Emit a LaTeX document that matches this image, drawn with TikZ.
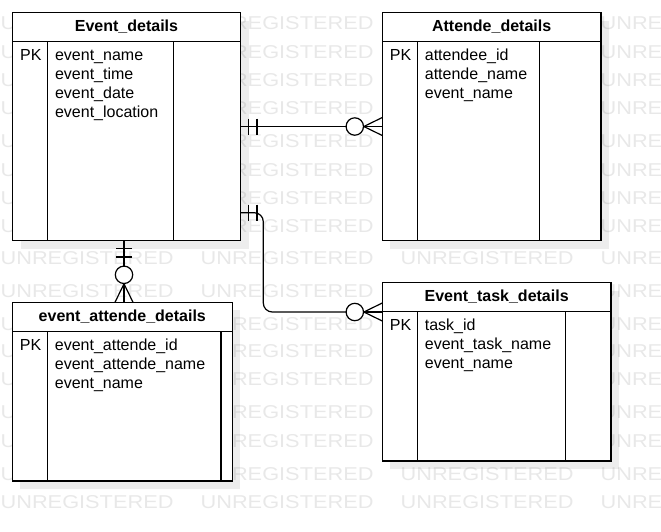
\documentclass[tikz,border=0pt]{standalone}
\usepackage{fontspec}
\setmainfont{Liberation Sans}
\usepackage{graphicx}
\usetikzlibrary{calc,shadows}

\begin{document}
\begin{tikzpicture}[x=1pt,y=-1pt,line width=1.2pt,
  tbl/.style={draw,fill=white,inner sep=0pt,outer sep=0pt,
    drop shadow={shadow xshift=8pt,shadow yshift=-8pt,fill=black,opacity=0.07}},
  ttl/.style={anchor=base,inner sep=0pt,font=\fontsize{16}{16}\selectfont\bfseries},
  fld/.style={anchor=base west,inner sep=0pt,font=\fontsize{16}{16}\selectfont},
  wm/.style={anchor=west,inner sep=0pt,text=black!9,font=\fontsize{18.6}{18.6}\selectfont},
  pics/onebar/.style={code={
    \draw (8,-8) -- (8,8);
    \draw (16.5,-8) -- (16.5,8);}},
  pics/zeromany/.style={code={
    \draw (0,-9) -- (-18.5,0) -- (0,9);
    \draw (-18.5,0) -- (0,0);
    \draw[fill=white] (-27.5,0) circle (8.7);}}]
  \useasboundingbox (0,0) rectangle (661,531);
  \foreach \y in {258,502}
    \foreach \x in {0,200,400}
      \node[wm] at (\x,\y) {\scalebox{1.17}[1]{UNREGISTERED}};
  \foreach \y in {23,52,80,108,141,170,198,226,291,324,351,379,412,441,474}
    \node[wm] at (200,\y) {\scalebox{1.17}[1]{UNREGISTERED}};
  \foreach \y in {23,52,80,108,141,170,198,226,258,291,324,351,379,412,441,474,502}
    \node[wm] at (600,\y) {\scalebox{1.17}[1]{UNRE}};
  \foreach \y in {23,52,80,108,141,170,198,226,324,351,379,412,441,474}
    \node[wm] at (0,\y) {\scalebox{1.17}[1]{U}};
  \node[wm] at (0,291) {\scalebox{1.17}[1]{UNREGISTERED}};
  \node[wm] at (400,474) {\scalebox{1.17}[1]{UNREGISTERED}};

  \node[tbl,minimum width=228pt,minimum height=228pt] (event) at (126.5,126.5) {};
  \node[tbl,minimum width=218.7pt,minimum height=228pt] (att) at (491.65,126.5) {};
  \node[tbl,minimum width=220pt,minimum height=178.7pt] (ea) at (122.3,391.65) {};
  \node[tbl,minimum width=228.7pt,minimum height=178.3pt] (task) at (496.65,371.85) {};

  \foreach \n/\w in {event/67,att/61.7,ea/11.3,task/45.7}{
    \draw ($(\n.north west)+(0,29)$) -- ($(\n.north east)+(0,29)$);
    \draw ($(\n.north west)+(35,29)$) -- ($(\n.south west)+(35,0)$);
    \draw ($(\n.north east)+(-\w,29)$) -- ($(\n.south east)+(-\w,0)$);
    \node[fld] at ($(\n.north west)+(7,48)$) {PK};
  }

  \node[ttl] at ($(event.north)+(0,18.7)$) {Event\_details};
  \node[ttl] at ($(att.north)+(0,18.7)$) {Attende\_details};
  \node[ttl] at ($(ea.north)+(0,18.7)$) {event\_attende\_details};
  \node[ttl] at ($(task.north)+(0,18.7)$) {Event\_task\_details};

  \foreach \t [count=\i from 0] in {event\_name,event\_time,event\_date,event\_location}
    \node[fld] at ($(event.north west)+(42,48+18.9*\i)$) {\t};
  \foreach \t [count=\i from 0] in {attendee\_id,attende\_name,event\_name}
    \node[fld] at ($(att.north west)+(42,48+18.9*\i)$) {\t};
  \foreach \t [count=\i from 0] in {event\_attende\_id,event\_attende\_name,event\_name}
    \node[fld] at ($(ea.north west)+(42,48+18.9*\i)$) {\t};
  \foreach \t [count=\i from 0] in {task\_id,event\_task\_name,event\_name}
    \node[fld] at ($(task.north west)+(42,48+18.9*\i)$) {\t};

  \draw (event.east) -- (att.west);
  \pic at (event.east) {onebar};
  \pic at (att.west) {zeromany};

  \coordinate (e2) at ($(event.east)+(0,86.2)$);
  \coordinate (t2) at ($(task.north west)+(0,29.3)$);
  \draw[rounded corners=9pt] (e2) -- ++(22.8,0) |- (t2);
  \pic at (e2) {onebar};
  \pic at (t2) {zeromany};

  \coordinate (e3) at ($(event.south)+(-2.5,0)$);
  \coordinate (a3) at (e3 |- ea.north);
  \draw (e3) -- (a3);
  \pic[rotate=-90] at (e3) {onebar};
  \pic[rotate=-90] at (a3) {zeromany};
\end{tikzpicture}
\end{document}
